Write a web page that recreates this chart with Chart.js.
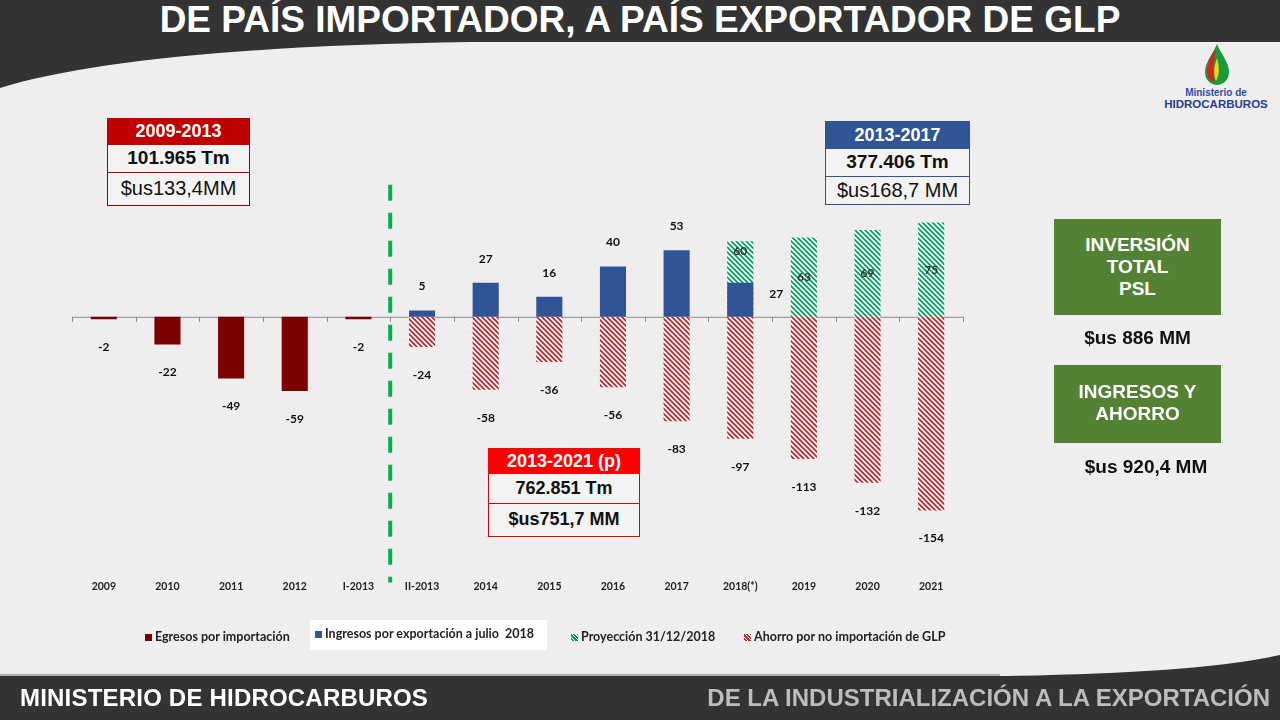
<!DOCTYPE html>
<html>
<head>
<meta charset="utf-8">
<script src="https://cdn.jsdelivr.net/npm/chart.js@4.4.1/dist/chart.umd.min.js"></script>
<style>
  html, body { margin: 0; padding: 0; }
  body { width: 1280px; height: 720px; position: relative; overflow: hidden; background: #efedee; font-family: "Liberation Sans", Arial, sans-serif; }
  #deco { position: absolute; left: 0; top: 0; }
  #title { position: absolute; left: 0; top: -1px; width: 1280px; text-align: center; color: #fff; font-weight: bold; font-size: 37px; }
  #chartWrap { position: absolute; left: 0; top: 0; width: 1280px; height: 720px; }
  .box { position: absolute; text-align: center; }
  .box div { box-sizing: border-box; }
  .hd { color: #fff; font-weight: bold; font-size: 18px; }
  .row { background: #f4f3f3; color: #111; font-size: 20px; }
  .green { position: absolute; background: #548235; color: #fff; font-weight: bold; font-size: 19px; line-height: 22px; text-align: center; box-sizing: border-box; }
  .val { position: absolute; font-weight: bold; font-size: 19px; color: #111; text-align: center; }
  .leg { position: absolute; top: 629px; font-family: Lato, sans-serif; font-size: 12.5px; font-weight: bold; color: #222; white-space: nowrap; }
  .leg i { display: inline-block; width: 7px; height: 7px; margin-right: 3px; vertical-align: 0px; }
  #foot1 { position: absolute; left: 20px; top: 684px; color: #fff; font-weight: bold; font-size: 24px; letter-spacing: 0.2px; }
  #foot2 { position: absolute; right: 10px; top: 684px; color: #bdbdbd; font-weight: bold; font-size: 24px; }
</style>
</head>
<body>
<svg id="deco" width="1280" height="720">
  <path d="M0 0 H1280 V42 H470 C260 45 90 60 0 88 Z" fill="#333333"/>
  <path d="M0 676 H1000 C1130 674 1220 668 1280 655 V720 H0 Z" fill="#333333"/>
  <line x1="0" y1="675" x2="1000" y2="675" stroke="#9a9a9a" stroke-width="1.5"/>
  <!-- logo -->
  <g transform="translate(1217,44)">
    <path d="M0 0 C-4 10 -12 18 -12 28 C-12 36 -6 41 0 41 C6 41 12 36 12 28 C12 18 4 10 0 0 Z" fill="#1a9a3a"/>
    <path d="M-1 3 C-5 12 -11 19 -10 29 C-9 35 -5 38 -2 38 C-6 30 -3 20 -1 3 Z" fill="#d7261e"/>
    <path d="M0 14 C-3 22 -4 30 -1 37 C2 32 3 24 0 14 Z" fill="#f2d21b"/>
  </g>
  <text x="1216" y="96" text-anchor="middle" font-family="Liberation Sans" font-weight="bold" font-size="10" fill="#2a4f9e">Ministerio de</text>
  <text x="1216" y="108" text-anchor="middle" font-family="Liberation Sans" font-weight="bold" font-size="11.5" fill="#1f3f8f">HIDROCARBUROS</text>
</svg>
<div id="title">DE PAÍS IMPORTADOR, A PAÍS EXPORTADOR DE GLP</div>

<div id="chartWrap"><canvas id="myChart" width="1280" height="720"></canvas></div>

<div class="box" style="left:107px; top:118px; width:143px;">
  <div class="hd" style="background:#c00000; height:27px; line-height:27px;">2009-2013</div>
  <div class="row" style="height:28px; line-height:26px; border:1px solid #a00000; border-top:none; font-weight:bold; font-size:19px;">101.965 Tm</div>
  <div class="row" style="height:33px; line-height:31px; border:1px solid #a00000; border-top:none;">$us133,4MM</div>
</div>
<div class="box" style="left:825px; top:121px; width:145px;">
  <div class="hd" style="background:#2f5597; height:28px; line-height:28px;">2013-2017</div>
  <div class="row" style="height:28px; line-height:26px; border:1px solid #2f5597; border-top:none; font-weight:bold; font-size:19px;">377.406 Tm</div>
  <div class="row" style="height:28px; line-height:26px; border:1px solid #2f5597; border-top:none;">$us168,7 MM</div>
</div>
<div class="box" style="left:488px; top:448px; width:152px;">
  <div class="hd" style="background:#ff0000; height:26px; line-height:26px;">2013-2021 (p)</div>
  <div class="row" style="height:30px; line-height:28px; border:1px solid #e00000; border-top:none; font-weight:bold; font-size:18px;">762.851 Tm</div>
  <div class="row" style="height:33px; line-height:31px; border:1px solid #e00000; border-top:none; font-weight:bold; font-size:18px;">$us751,7 MM</div>
</div>

<div class="green" style="left:1054px; top:219px; width:167px; height:96px; padding-top:15px;">INVERSIÓN<br>TOTAL<br>PSL</div>
<div class="val" style="left:1054px; top:327px; width:167px;">$us 886 MM</div>
<div class="green" style="left:1054px; top:365px; width:167px; height:78px; padding-top:16px;">INGRESOS Y<br>AHORRO</div>
<div class="val" style="left:1054px; top:456px; width:184px;">$us 920,4 MM</div>

<div class="leg" style="left:145px;"><i style="background:#7b0000"></i>Egresos por importación</div>
<div style="position:absolute; left:310px; top:620px; width:237px; height:30px; background:#fff;"></div>
<div class="leg" style="left:315px; top:626px;"><i style="background:#2f5597"></i>Ingresos por exportación a julio&nbsp; 2018</div>
<div class="leg" style="left:571px;"><i style="background:repeating-linear-gradient(45deg,#fff 0 1px,#00a060 1px 2.5px)"></i>Proyección 31/12/2018</div>
<div class="leg" style="left:744px;"><i style="background:repeating-linear-gradient(45deg,#fff 0 1px,#c0262c 1px 2.5px)"></i>Ahorro por no importación de GLP</div>

<div id="foot1">MINISTERIO DE HIDROCARBUROS</div>
<div id="foot2">DE LA INDUSTRIALIZACIÓN A LA EXPORTACIÓN</div>

<script>
// values (millions of $us)
const categories = ['2009', '2010', '2011', '2012', 'I-2013', 'II-2013', '2014', '2015', '2016', '2017', '2018(*)', '2019', '2020', '2021'];
const egresos    = [-2, -22, -49, -59, -2, null, null, null, null, null, null, null, null, null];
const ingresos   = [null, null, null, null, null, 5, 27, 16, 40, 53, 27, null, null, null];
const proyeccion = [null, null, null, null, null, null, null, null, null, null, 60, 63, 69, 75];
const ahorro     = [null, null, null, null, null, -24, -58, -36, -56, -83, -97, -113, -132, -154];

function makeHatch(color) {
  var c = document.createElement('canvas');
  c.width = 5; c.height = 5;
  var g = c.getContext('2d');
  g.fillStyle = '#ffffff';
  g.fillRect(0, 0, 5, 5);
  g.strokeStyle = color;
  g.lineWidth = 1.8;
  g.beginPath();
  g.moveTo(-1, -1); g.lineTo(6, 6);
  g.moveTo(-1, 4); g.lineTo(1, 6);
  g.moveTo(4, -1); g.lineTo(6, 1);
  g.stroke();
  return g.createPattern(c, 'repeat');
}

// zero line with ticks + green divider between I-2013 and II-2013
var axisPlugin = {
  id: 'axisPlugin',
  beforeDatasetsDraw: function(chart) {
    var ctx = chart.ctx, x = chart.scales.x, y = chart.scales.y;
    var y0 = y.getPixelForValue(0);
    var step = x.getPixelForValue(1) - x.getPixelForValue(0);
    var left = x.getPixelForValue(0) - step / 2;
    ctx.save();
    ctx.strokeStyle = '#8c8c8c';
    ctx.lineWidth = 1;
    ctx.beginPath();
    ctx.moveTo(left, y0 + 0.5);
    ctx.lineTo(left + step * categories.length, y0 + 0.5);
    for (var i = 0; i <= categories.length; i++) {
      var tx = Math.round(left + step * i) + 0.5;
      ctx.moveTo(tx, y0);
      ctx.lineTo(tx, y0 + 5);
    }
    ctx.stroke();
    ctx.restore();
  },
  afterDatasetsDraw: function(chart) {
    var ctx = chart.ctx, x = chart.scales.x, y = chart.scales.y;
    var dx = (x.getPixelForValue(4) + x.getPixelForValue(5)) / 2;
    ctx.save();
    ctx.strokeStyle = '#00b050';
    ctx.lineWidth = 4;
    ctx.setLineDash([16, 12]);
    ctx.beginPath();
    ctx.moveTo(dx, y.getPixelForValue(105));
    ctx.lineTo(dx, chart.chartArea.bottom + 14);
    ctx.stroke();
    ctx.restore();
  }
};

// data labels the way the slide places them
var labelPlugin = {
  id: 'labelPlugin',
  afterDatasetsDraw: function(chart) {
    var ctx = chart.ctx;
    ctx.save();
    ctx.font = 'bold 12px Lato';
    ctx.textAlign = 'center';
    ctx.textBaseline = 'middle';
    chart.data.datasets.forEach(function(ds, di) {
      var meta = chart.getDatasetMeta(di);
      meta.data.forEach(function(bar, i) {
        var v = ds.data[i];
        if (v === null) return;
        var lx = bar.x, ly;
        ctx.fillStyle = '#111';
        if (ds.key === 'proy') {
          ctx.fillStyle = '#333';
          ly = ingresos[i] !== null ? bar.y + 10 : (bar.y + bar.base) / 2;
        } else if (ds.key === 'ing') {
          if (proyeccion[i] !== null) { lx = bar.x + 36; ly = bar.y + 11; }
          else ly = bar.y - 24;
        } else {
          ly = bar.y + 28;
        }
        ctx.fillText(String(v), lx, ly);
      });
    });
    ctx.restore();
  }
};

var ctx = document.getElementById('myChart').getContext('2d');
var chart = new Chart(ctx, {
  type: 'bar',
  data: {
    labels: categories,
    datasets: [
      { key: 'ing', label: 'Ingresos por exportación a julio  2018', data: ingresos, backgroundColor: '#2f5597', order: 1 },
      { key: 'egr', label: 'Egresos por importación', data: egresos, backgroundColor: '#7b0000', order: 1 },
      { key: 'aho', label: 'Ahorro por no importación de GLP', data: ahorro, backgroundColor: makeHatch('#c0262c'), order: 1 },
      { key: 'proy', label: 'Proyección 31/12/2018', data: proyeccion, backgroundColor: makeHatch('#00a060'), order: 2 }
    ]
  },
  options: {
    responsive: false,
    animation: false,
    devicePixelRatio: 1,
    layout: { padding: { left: 72, right: 317, top: 191, bottom: 123 } },
    datasets: { bar: { grouped: false, barPercentage: 0.41, categoryPercentage: 1 } },
    plugins: { legend: { display: false }, tooltip: { enabled: false } },
    scales: {
      x: {
        grid: { display: false },
        border: { display: false },
        ticks: { padding: 4, color: '#222', font: { family: 'Lato', weight: 'bold', size: 10.5 } }
      },
      y: { display: false, min: -200, max: 100 }
    }
  },
  plugins: [axisPlugin, labelPlugin]
});
</script>
</body>
</html>
